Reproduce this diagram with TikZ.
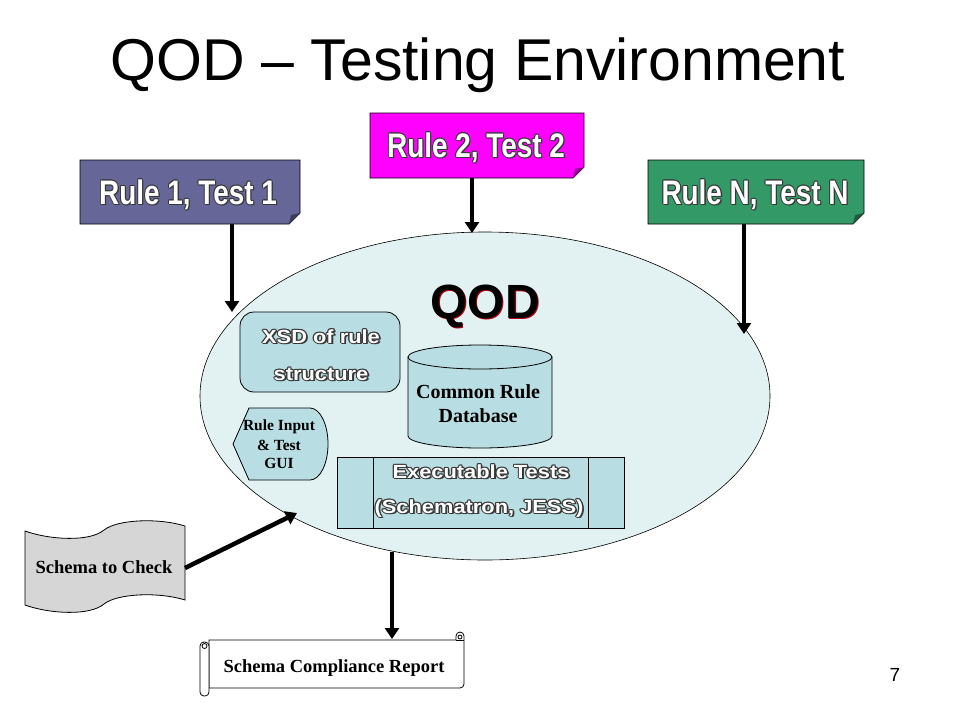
\documentclass[tikz,border=0pt]{standalone}
\usepackage{fontspec}
\usepackage{graphicx}
\setmainfont{Liberation Serif}
\newfontfamily\sansf{Liberation Sans}
\usetikzlibrary{arrows.meta}
\definecolor{olc}{HTML}{383838}
\definecolor{ruleA}{HTML}{666699}
\definecolor{ruleB}{HTML}{FF00FF}
\definecolor{ruleC}{HTML}{339966}
\definecolor{ellfill}{HTML}{E2F2F3}
\definecolor{innerfill}{HTML}{B8DEE3}
\definecolor{tapefill}{HTML}{D6D6D6}
\definecolor{qodred}{HTML}{B00010}
\newcommand\olcp[3]{\rlap{\hspace*{#1}\raisebox{#2}{\textcolor{olc}{#3}}}}
\newcommand\outl[1]{\leavevmode
  \olcp{1.6pt}{-1.6pt}{#1}%
  \olcp{-1pt}{0pt}{#1}\olcp{1pt}{0pt}{#1}\olcp{0pt}{1pt}{#1}\olcp{0pt}{-1pt}{#1}%
  \olcp{0.7pt}{0.7pt}{#1}\olcp{-0.7pt}{0.7pt}{#1}\olcp{0.7pt}{-0.7pt}{#1}\olcp{-0.7pt}{-0.7pt}{#1}%
  \textcolor{white}{#1}}
\tikzset{
  arr/.style={line width=4.5pt, -{Triangle[length=11pt,width=14pt]}},
  rulelabel/.style={anchor=base, inner sep=0pt, font=\sansf\bfseries\fontsize{34}{34}\selectfont},
  olabel/.style={anchor=base, inner sep=0pt, font=\sansf\bfseries\fontsize{19}{19}\selectfont},
  serlabel/.style={anchor=base, inner sep=0pt, font=\bfseries\fontsize{18.5}{18.5}\selectfont},
  shapeline/.style={draw=black, line width=0.8pt},
}
\begin{document}
\begin{tikzpicture}[x=1pt,y=-1pt]
\useasboundingbox (0,0) rectangle (960,720);
\fill[white] (0,0) rectangle (960,720);

% title
\node[anchor=base, inner sep=0pt, font=\sansf\fontsize{59}{59}\selectfont] (title) at (478,80) {QOD – Testing Environment};

% rule boxes (folded corner)
\draw[shapeline, fill=ruleA] (80,160) -- (300,160) -- (300,213) -- (289,224) -- (80,224) -- cycle;
\fill[ruleA!60!black] (300,213) -- (291,215) -- (289,224) -- cycle;
\node[rulelabel] (rule1) at (188,204) {\scalebox{0.82}[1]{\outl{Rule 1, Test 1}}};

\draw[shapeline, fill=ruleB] (370,113) -- (584,113) -- (584,167) -- (573,178) -- (370,178) -- cycle;
\fill[ruleB!60!black] (584,167) -- (575,169) -- (573,178) -- cycle;
\node[rulelabel] (rule2) at (476,157) {\scalebox{0.82}[1]{\outl{Rule 2, Test 2}}};

\draw[shapeline, fill=ruleC] (648,160) -- (864,160) -- (864,213) -- (853,224) -- (648,224) -- cycle;
\fill[ruleC!60!black] (864,213) -- (855,215) -- (853,224) -- cycle;
\node[rulelabel] (ruleN) at (755,204) {\scalebox{0.82}[1]{\outl{Rule N, Test N}}};

% QOD ellipse
\draw[draw=black, line width=0.6pt, fill=ellfill] (485,396) ellipse [x radius=285, y radius=164];
\node[anchor=base, inner sep=0pt, font=\sansf\bfseries\fontsize{48}{48}\selectfont, text=qodred] (qodshadow) at (486.3,319.3) {QOD};
\node[anchor=base, inner sep=0pt, font=\sansf\bfseries\fontsize{48}{48}\selectfont] (qod) at (485,318) {QOD};

% XSD rounded box
\draw[shapeline, fill=innerfill, rounded corners=14pt] (240,312) rectangle (400,392);
\node[olabel] (xsd1) at (321,343) {\scalebox{1.15}[1]{\outl{XSD of rule}}};
\node[olabel] (xsd2) at (321,380) {\scalebox{1.15}[1]{\outl{structure}}};

% database cylinder
\draw[shapeline, fill=innerfill] (408,357) -- (408,436) arc[start angle=180, end angle=0, x radius=72, y radius=12] -- (552,357) -- cycle;
\draw[shapeline, fill=innerfill] (480,357) ellipse [x radius=72, y radius=12];
\node[anchor=base, inner sep=0pt, font=\bfseries\fontsize{20}{20}\selectfont] (db1) at (478,398) {Common Rule};
\node[anchor=base, inner sep=0pt, font=\bfseries\fontsize{20}{20}\selectfont] (db2) at (478,422) {Database};

% GUI display shape
\draw[shapeline, fill=innerfill] (233,444) -- (249,408) -- (310,408) arc[start angle=-90, end angle=90, x radius=18, y radius=36] -- (249,480) -- cycle;
\node[anchor=base, inner sep=0pt, font=\bfseries\fontsize{15.5}{15.5}\selectfont] (gui1) at (279,430) {Rule Input};
\node[anchor=base, inner sep=0pt, font=\bfseries\fontsize{15.5}{15.5}\selectfont] (gui2) at (279,450) {\& Test};
\node[anchor=base, inner sep=0pt, font=\bfseries\fontsize{15.5}{15.5}\selectfont] (gui3) at (279,468) {GUI};

% executable tests (predefined process)
\draw[shapeline, fill=innerfill] (337,457) rectangle (624,528);
\draw[shapeline] (373,457) -- (373,528) (588,457) -- (588,528);
\node[olabel] (ex1) at (481,478) {\scalebox{1.15}[1]{\outl{Executable Tests}}};
\node[olabel] (ex2) at (479,513) {\scalebox{1.15}[1]{\outl{(Schematron, JESS)}}};

% schema to check (punched tape)
\draw[shapeline, fill=tapefill] (25,531) .. controls (50,540) and (90,542) .. (104,530)
  .. controls (118,519) and (160,518) .. (185,526) -- (185,600)
  .. controls (160,592) and (118,593) .. (104,604)
  .. controls (90,616) and (50,614) .. (25,605) -- cycle;
\node[serlabel] (schema) at (104,573) {Schema to Check};

% report (horizontal scroll)
\draw[shapeline, fill=white] (209,640) -- (456,640) -- (456,636) arc[start angle=180, end angle=360, radius=4] -- (464,684) arc[start angle=0, end angle=90, radius=4] -- (209,688) -- cycle;
\draw[shapeline] (456,640) -- (464,640);
\draw[shapeline] (460,637) circle [radius=2];
\draw[shapeline, fill=white, rounded corners=4pt] (200,642) rectangle (209,696);
\draw[shapeline] (204.5,646) circle [radius=2.5];
\node[serlabel] (report) at (334,672) {Schema Compliance Report};

% page number
\node[anchor=base, inner sep=0pt, font=\sansf\fontsize{19}{19}\selectfont] (pagenum) at (895,681) {7};

% connectors
\coordinate (r1out) at (232,224);
\coordinate (r1in) at (232,312);
\coordinate (r2out) at (472,178);
\coordinate (r2in) at (472,233);
\coordinate (rNout) at (744,224);
\coordinate (rNin) at (744,334);
\coordinate (schout) at (185,568);
\coordinate (schin) at (297,513);
\coordinate (qodout) at (392,552);
\coordinate (repin) at (392,639);
\draw[arr] (r1out) -- (r1in);
\draw[arr] (r2out) -- (r2in);
\draw[arr] (rNout) -- (rNin);
\draw[arr] (schout) -- (schin);
\draw[arr] (qodout) -- (repin);
\end{tikzpicture}
\end{document}
